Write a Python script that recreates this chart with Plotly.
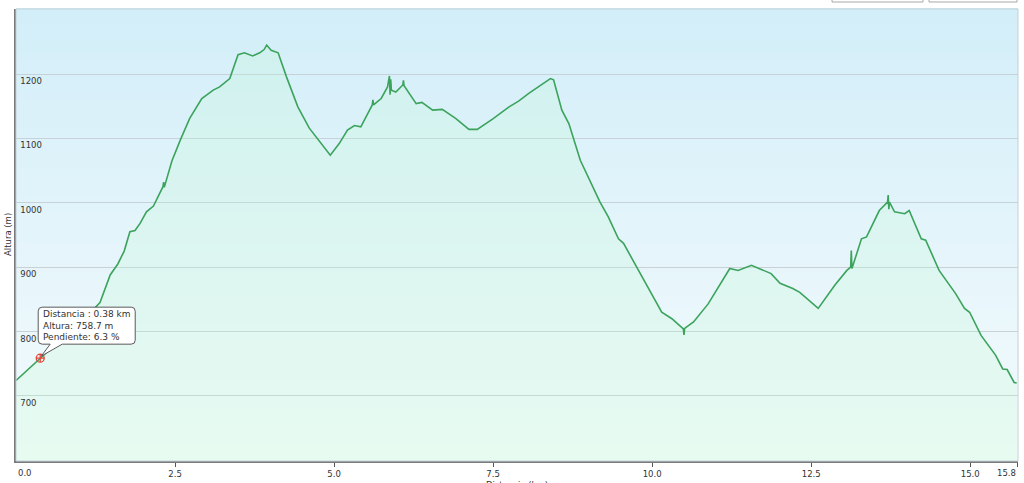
import plotly.graph_objects as go

# ---- data ----
distance_km = [0.00, 0.38, 0.74, 1.00, 1.32, 1.48, 1.60, 1.70, 1.79, 1.87, 1.95, 2.05, 2.16,
               2.31, 2.32, 2.33, 2.45, 2.58, 2.73, 2.92, 3.10, 3.20, 3.36, 3.49, 3.59, 3.72,
               3.83, 3.90, 3.94, 4.01, 4.12, 4.25, 4.43, 4.61, 4.82, 4.94, 5.08, 5.21, 5.32,
               5.42, 5.60, 5.61, 5.62, 5.74, 5.84, 5.87, 5.88, 5.89, 5.90, 5.97, 6.08, 6.09,
               6.10, 6.29, 6.38, 6.55, 6.70, 6.91, 7.12, 7.25, 7.49, 7.75, 7.90, 8.06, 8.40,
               8.45, 8.58, 8.69, 8.87, 9.00, 9.18, 9.31, 9.47, 9.55, 9.84, 10.15, 10.31, 10.49,
               10.50, 10.51, 10.65, 10.88, 11.22, 11.35, 11.56, 11.67, 11.87, 12.01, 12.21,
               12.32, 12.61, 12.87, 13.06, 13.12, 13.13, 13.14, 13.29, 13.37, 13.57, 13.70,
               13.71, 13.72, 13.73, 13.81, 13.97, 14.04, 14.23, 14.30, 14.51, 14.77, 14.91,
               14.99, 15.17, 15.40, 15.51, 15.58, 15.69, 15.73]
altitude_m = [724, 759, 791, 812, 845, 888, 905, 925, 955, 957, 968, 986, 995,
              1025, 1032, 1024, 1065, 1097, 1131, 1162, 1175, 1180, 1193, 1230, 1233, 1228,
              1233, 1238, 1245, 1237, 1233, 1196, 1149, 1116, 1090, 1074, 1092, 1113, 1120,
              1118, 1152, 1160, 1152, 1162, 1180, 1197, 1168, 1192, 1175, 1172, 1183, 1190,
              1182, 1154, 1156, 1144, 1145, 1131, 1114, 1114, 1130, 1149, 1158, 1170, 1193,
              1191, 1144, 1123, 1066, 1038, 1001, 978, 944, 937, 885, 830, 820, 804,
              795, 805, 815, 843, 898, 895, 903, 898, 890, 875, 867,
              861, 836, 872, 895, 900, 926, 898, 944, 947, 988, 1001,
              1012, 990, 1001, 986, 983, 988, 944, 942, 895, 859, 836,
              830, 794, 763, 742, 741, 721, 720]

x_tick_vals = [0.0, 2.5, 5.0, 7.5, 10.0, 12.5, 15.0, 15.75]
x_tick_text = ["0.0", "2.5", "5.0", "7.5", "10.0", "12.5", "15.0", "15.8"]
y_tick_vals = [700, 800, 900, 1000, 1100, 1200]

hover_point_km = [0.38]
hover_point_alt = [758.7]
hover_text = "Distancia : 0.38 km<br>Altura: 758.7 m<br>Pendiente: 6.3 %"

X_RANGE = [-0.0005, 15.7505]
Y_RANGE = [599, 1301]

# ---- figure ----
fig = go.Figure()

fig.add_trace(go.Scatter(
    x=distance_km, y=altitude_m, mode="lines",
    line=dict(color="#3ba35c", width=1.6),
    fill="tozeroy", fillcolor="rgba(190,250,205,0.22)",
    hoverinfo="skip", showlegend=False,
))

fig.add_trace(go.Scatter(
    x=hover_point_km, y=hover_point_alt, mode="markers",
    marker=dict(symbol="circle-cross-open", size=8, color="#e8453c",
                line=dict(width=1.3, color="#e8453c")),
    hoverinfo="skip", showlegend=False,
))

# background gradient bands (decoration)
def lerp(c1, c2, t):
    return tuple(round(a + (b - a) * t) for a, b in zip(c1, c2))

stops = [(0.0, (243, 251, 252)), (0.45, (230, 245, 251)), (1.0, (210, 238, 249))]
n_bands = 60
shapes = []
for i in range(n_bands):
    y0 = i / n_bands
    y1 = (i + 1) / n_bands
    ym = (y0 + y1) / 2
    for (s0, c0), (s1, c1) in zip(stops[:-1], stops[1:]):
        if s0 <= ym <= s1:
            col = lerp(c0, c1, (ym - s0) / (s1 - s0))
            break
    shapes.append(dict(type="rect", xref="paper", yref="paper", x0=0, x1=1,
                       y0=y0, y1=y1 + 0.002, fillcolor="rgb(%d,%d,%d)" % col,
                       line=dict(width=0), layer="below"))

# light frame (top / right)
shapes.append(dict(type="rect", xref="paper", yref="paper", x0=0, x1=1, y0=0, y1=1,
                   line=dict(color="#c3d0d6", width=1), layer="above"))
# top-right buttons (partially visible)
for bx0, bx1 in [(0.8144, 0.9052), (0.9112, 0.9990)]:
    shapes.append(dict(type="rect", xref="paper", yref="paper", x0=bx0, x1=bx1,
                       y0=1.0155, y1=1.04, fillcolor="white",
                       line=dict(color="#a8a8a8", width=1), layer="above"))

# rounded tooltip callout (pixel offsets around the hovered point)
L, R, B, T, r = -2, 95, 14, 51, 4
callout = (f"M {L+r},{B} L 10,{B} L 1,2 L 22,{B} L {R-r},{B} Q {R},{B} {R},{B+r} "
           f"L {R},{T-r} Q {R},{T} {R-r},{T} L {L+r},{T} Q {L},{T} {L},{T-r} "
           f"L {L},{B+r} Q {L},{B} {L+r},{B} Z")
shapes.append(dict(type="path", xref="x", yref="y", xsizemode="pixel", ysizemode="pixel",
                   xanchor=hover_point_km[0], yanchor=hover_point_alt[0], path=callout,
                   fillcolor="white", line=dict(color="#5a5a5a", width=1), layer="above"))

# inner tick labels drawn by the axis; the two edge labels are aligned inward
axis_ticktext = [""] + x_tick_text[1:-1] + [""]
edge_labels = [
    dict(x=x_tick_vals[0], y=0, xref="x", yref="paper", text=x_tick_text[0],
         xanchor="left", yanchor="top", yshift=-5, showarrow=False,
         font=dict(size=8.5, color="#333333")),
    dict(x=x_tick_vals[-1], y=0, xref="x", yref="paper", text=x_tick_text[-1],
         xanchor="right", yanchor="top", yshift=-5, showarrow=False,
         font=dict(size=8.5, color="#333333")),
]

fig.update_layout(
    width=1024, height=483,
    margin=dict(l=16, r=6, t=9, b=22),
    paper_bgcolor="white",
    plot_bgcolor="rgba(0,0,0,0)",
    font=dict(family="DejaVu Sans", size=9, color="#333333"),
    shapes=shapes,
    showlegend=False,
    xaxis=dict(range=X_RANGE, tickvals=x_tick_vals, ticktext=axis_ticktext,
               showgrid=False, zeroline=False, showline=True, linecolor="#7a7a7a",
               linewidth=2, ticks="outside", ticklen=4, tickcolor="#555555",
               tickfont=dict(size=8.5, color="#333333"), fixedrange=True,
               automargin=False),
    yaxis=dict(range=Y_RANGE, tickvals=y_tick_vals, showgrid=True,
               gridcolor="#c6d2d7", gridwidth=1, zeroline=False, showline=True,
               linecolor="#7a7a7a", linewidth=2, ticks="",
               ticklabelposition="inside", ticklabelshift=7, ticklabelstandoff=3,
               tickfont=dict(size=8.5, color="#333333"), fixedrange=True,
               automargin=False),
    annotations=[
        dict(x=hover_point_km[0], y=hover_point_alt[0], xref="x", yref="y",
             text=hover_text, showarrow=False, align="left",
             xshift=46.5, yshift=32.5, font=dict(size=9, color="#333333")),
        dict(text="Altura (m)", xref="paper", yref="paper", x=0, y=0.5,
             xanchor="center", yanchor="middle",
             xshift=-8, textangle=-90, showarrow=False,
             font=dict(size=8.5, color="#333333")),
        dict(text="Distancia (km)", xref="paper", yref="paper", x=0.5, y=0,
             yshift=-17, yanchor="top", showarrow=False,
             font=dict(size=8.5, color="#333333")),
    ] + edge_labels,
)

fig.write_html("out.html", config={"displayModeBar": False},
               post_script="document.body.style.margin='0';document.body.style.overflow='hidden';")
